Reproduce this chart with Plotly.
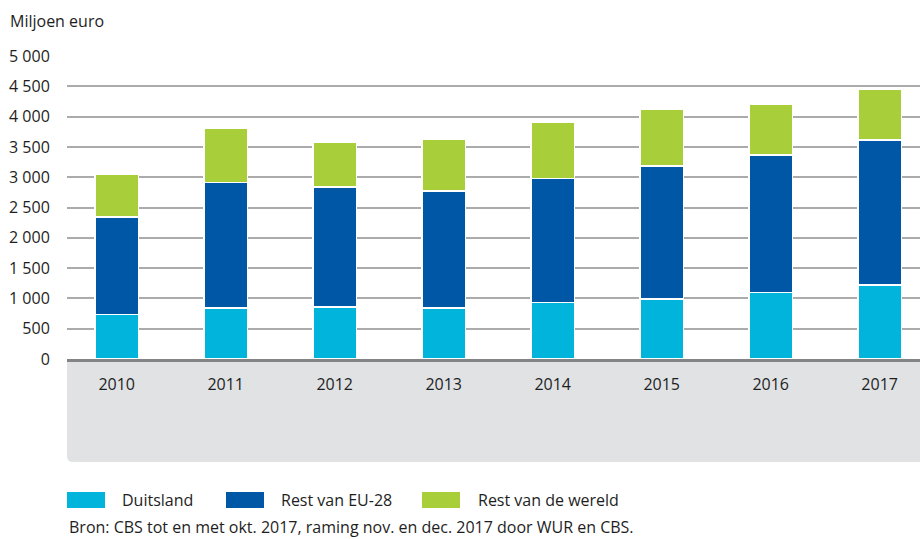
import plotly.graph_objects as go

# Export values by destination, million euro
years = ["2010", "2011", "2012", "2013", "2014", "2015", "2016", "2017"]
duitsland = [735, 845, 855, 845, 930, 990, 1100, 1220]
rest_eu28 = [1605, 2065, 1980, 1925, 2050, 2195, 2265, 2390]
rest_wereld = [705, 890, 745, 850, 920, 930, 835, 835]

series_names = ["Duitsland", "Rest van EU-28", "Rest van de wereld"]
series_colors = ["#00b4dc", "#0057a6", "#a8ce3a"]
y_ticks = list(range(0, 5001, 500))

W, H = 920, 539
ML, MR, MT, MB = 67, 0, 56, 180
PW, PH = W - ML - MR, H - MT - MB
FONT = "Open Sans, Liberation Sans, sans-serif"
TXT = "#1e1e1e"


def px(x):
    return (x - ML) / PW


def py(y):
    return (H - MB - y) / PH


fig = go.Figure()
for name, vals, col in zip(series_names, [duitsland, rest_eu28, rest_wereld], series_colors):
    fig.add_trace(go.Bar(
        x=years, y=vals, name=name, width=0.40,
        marker=dict(color=col, line=dict(color="white", width=1.5)),
        showlegend=False,
    ))

shapes = []
# grey band under the category axis, rounded at the bottom-left
band_bottom = py(462)
rx, ry = 6 / PW, 6 / PH
shapes.append(dict(
    type="path", xref="paper", yref="paper", layer="below",
    path=(f"M 0,0 L 1,0 L 1,{band_bottom} L {rx},{band_bottom} "
          f"Q 0,{band_bottom} 0,{band_bottom + ry} Z"),
    fillcolor="#e1e2e4", line=dict(width=0),
))

annotations = [dict(
    text="Miljoen euro", xref="paper", yref="paper", x=px(8), y=py(21),
    xanchor="left", yanchor="middle", showarrow=False,
    font=dict(family=FONT, size=16, color=TXT),
)]

# legend row drawn as swatches + labels
sw_left = [67, 226, 422]
txt_left = [120, 279, 476]
for name, col, sx, tx in zip(series_names, series_colors, sw_left, txt_left):
    shapes.append(dict(
        type="rect", xref="paper", yref="paper",
        x0=px(sx), x1=px(sx + 38), y0=py(508), y1=py(492),
        fillcolor=col, line=dict(width=0),
    ))
    annotations.append(dict(
        text=name, xref="paper", yref="paper", x=px(tx), y=py(500),
        xanchor="left", yanchor="middle", showarrow=False,
        font=dict(family=FONT, size=16, color=TXT),
    ))

annotations.append(dict(
    text="Bron: CBS tot en met okt. 2017, raming nov. en dec. 2017 door WUR en CBS.",
    xref="paper", yref="paper", x=px(67), y=py(527),
    xanchor="left", yanchor="middle", showarrow=False,
    font=dict(family=FONT, size=16, color=TXT),
))

fig.update_layout(
    width=W, height=H,
    margin=dict(l=ML, r=MR, t=MT, b=MB, pad=0),
    barmode="stack",
    paper_bgcolor="white", plot_bgcolor="white",
    separators=", ",
    font=dict(family=FONT, size=16, color=TXT),
    shapes=shapes, annotations=annotations,
    xaxis=dict(
        type="category", range=[-0.456, 7.370],
        showgrid=False, zeroline=False,
        showline=True, linecolor="#838486", linewidth=3,
        ticks="outside", ticklen=9, tickcolor="rgba(0,0,0,0)",
        tickfont=dict(family=FONT, size=16, color=TXT),
    ),
    yaxis=dict(
        range=[0, 5000], tickvals=y_ticks, tickformat=",.0f",
        showgrid=True, gridcolor="#ababab", gridwidth=1.5,
        zeroline=False, showline=False,
        ticks="outside", ticklen=13, tickcolor="rgba(0,0,0,0)",
        tickfont=dict(family=FONT, size=16, color=TXT),
    ),
)

fig.write_html("out.html")
